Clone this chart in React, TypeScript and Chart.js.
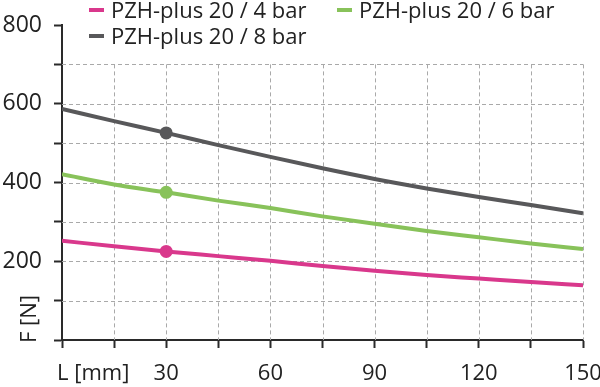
import React, { useEffect, useRef } from "react";
import { Chart, registerables } from "chart.js";

Chart.register(...registerables);

const lengths = [0, 15, 30, 45, 60, 75, 90, 105, 120, 135, 150];
const force4bar = [252, 238, 225, 213, 201, 188, 176, 165, 156, 147, 139];
const force6bar = [421, 395, 375, 354, 335, 314, 295, 277, 261, 245, 231];
const force8bar = [587, 556, 526, 495, 465, 436, 409, 385, 363, 343, 322];
const markerAt = [30];
const seriesLabels = ["PZH-plus 20 / 4 bar", "PZH-plus 20 / 6 bar", "PZH-plus 20 / 8 bar"];
const seriesColors = ["#d9388c", "#88c25a", "#58585a"];
const xTitle = "L [mm]";
const yTitle = "F [N]";

const FONT = "'Open Sans'";
const FONT_SIZE = 22;
const TEXT = "#222222";

export default function App() {
  const ref = useRef<HTMLCanvasElement | null>(null);

  useEffect(() => {
    document.body.style.margin = "0";
    const canvas = ref.current;
    if (!canvas) return;
    const allSeries = [force4bar, force6bar, force8bar];

    const overlay = {
      id: "overlay",
      beforeDatasetsDraw(chart: any) {
        const { ctx, scales } = chart;
        const xs = scales.x;
        const ys = scales.y;
        ctx.save();
        ctx.strokeStyle = "#a9a9a9";
        ctx.lineWidth = 1;
        ctx.setLineDash([4, 3]);
        const top = ys.getPixelForValue(700);
        const bottom = ys.getPixelForValue(0);
        const left = xs.getPixelForValue(0);
        const right = xs.getPixelForValue(150);
        for (let v = 100; v <= 700; v += 100) {
          const y = Math.round(ys.getPixelForValue(v)) + 0.5;
          ctx.beginPath();
          ctx.moveTo(left, y);
          ctx.lineTo(right, y);
          ctx.stroke();
        }
        for (let v = 15; v <= 150; v += 15) {
          const x = Math.round(xs.getPixelForValue(v)) + 0.5;
          ctx.beginPath();
          ctx.moveTo(x, top);
          ctx.lineTo(x, bottom);
          ctx.stroke();
        }
        ctx.restore();
      },
      afterDraw(chart: any) {
        const { ctx, scales } = chart;
        const xs = scales.x;
        const ys = scales.y;
        ctx.save();
        ctx.fillStyle = TEXT;
        ctx.font = `${FONT_SIZE}px ${FONT}`;
        ctx.textAlign = "left";
        ctx.textBaseline = "middle";
        ctx.fillText(xTitle, xs.getPixelForValue(0) - 5, 374);
        ctx.save();
        ctx.translate(30, ys.getPixelForValue(0) + 3);
        ctx.rotate(-Math.PI / 2);
        ctx.textAlign = "left";
        ctx.textBaseline = "middle";
        ctx.fillText(yTitle, 0, 0);
        ctx.restore();
        const slots = [
          { x: 89, y: 11 },
          { x: 337, y: 11 },
          { x: 89, y: 37 },
        ];
        seriesLabels.forEach((label, i) => {
          const s = slots[i];
          ctx.fillStyle = seriesColors[i];
          ctx.fillRect(s.x, s.y - 3, 15, 4);
          ctx.fillStyle = TEXT;
          ctx.textAlign = "left";
          ctx.textBaseline = "middle";
          ctx.fillText(label, s.x + 22, s.y + 1);
        });
        ctx.restore();
      },
    };

    const chart = new Chart(canvas, {
      type: "line",
      data: {
        datasets: allSeries.map((vals, i) => ({
          label: seriesLabels[i],
          data: lengths.map((x, j) => ({ x, y: vals[j] })),
          borderColor: seriesColors[i],
          backgroundColor: seriesColors[i],
          borderWidth: 4,
          cubicInterpolationMode: "monotone" as const,
          pointRadius: lengths.map((x) => (markerAt.includes(x) ? 6.5 : 0)),
          pointHoverRadius: 0,
          pointBorderWidth: 0,
          fill: false,
        })),
      },
      options: {
        responsive: false,
        animation: false,
        devicePixelRatio: 1,
        layout: { padding: { top: 25, right: 17, left: 0, bottom: 0 } },
        plugins: { legend: { display: false }, tooltip: { enabled: false } },
        scales: {
          x: {
            type: "linear",
            min: 0,
            max: 150,
            afterFit: (s: any) => {
              s.height = 47;
              s.paddingLeft = 0;
              s.paddingRight = 0;
            },
            border: { color: "#2a2a2a", width: 2 },
            grid: {
              drawOnChartArea: false,
              drawTicks: true,
              tickLength: 8,
              tickWidth: 2,
              tickColor: "#2a2a2a",
            },
            ticks: {
              stepSize: 15,
              autoSkip: false,
              maxRotation: 0,
              padding: 13,
              color: TEXT,
              font: { family: FONT, size: FONT_SIZE },
              callback: (v: any) => (v > 0 && v % 30 === 0 ? String(v) : ""),
            },
          },
          y: {
            type: "linear",
            min: 0,
            max: 800,
            afterFit: (s: any) => {
              s.width = 62;
              s.paddingTop = 0;
              s.paddingBottom = 0;
            },
            border: { color: "#2a2a2a", width: 2 },
            grid: {
              drawOnChartArea: false,
              drawTicks: true,
              tickLength: 8,
              tickWidth: 2,
              tickColor: "#2a2a2a",
            },
            ticks: {
              stepSize: 100,
              autoSkip: false,
              padding: 12,
              color: TEXT,
              font: { family: FONT, size: 23 },
              callback: (v: any) => (v > 0 && v % 200 === 0 ? String(v) : ""),
            },
          },
        },
      },
      plugins: [overlay],
    });
    return () => chart.destroy();
  }, []);

  return (
    <div style={{ width: 600, height: 387 }}>
      <canvas ref={ref} width={600} height={387} style={{ display: "block" }} />
    </div>
  );
}
